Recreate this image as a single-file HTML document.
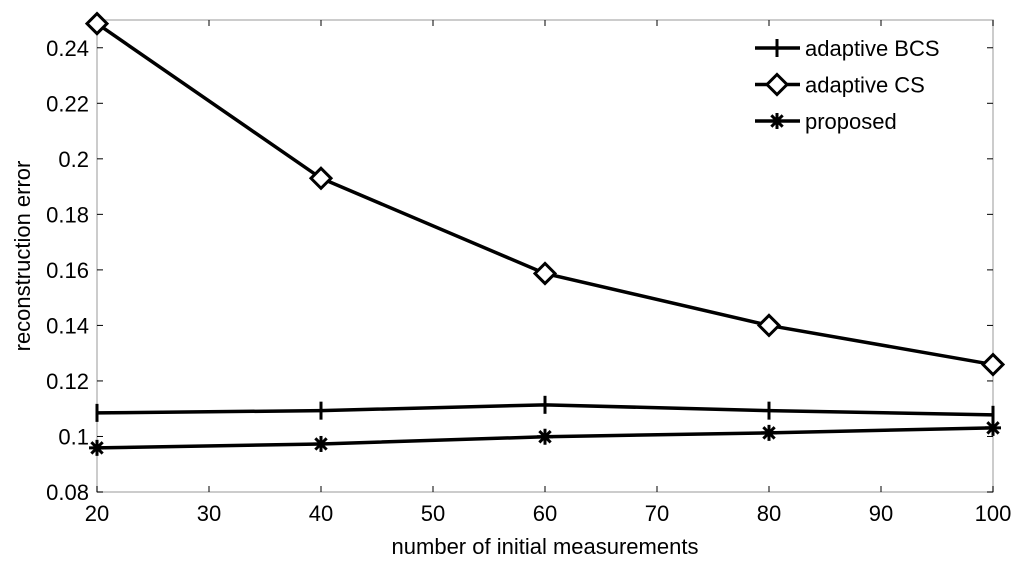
<!DOCTYPE html>
<html><head><meta charset="utf-8"><style>
html,body{margin:0;padding:0;background:#fff;}
svg{display:block;font-family:"Liberation Sans",Arial,sans-serif;}
</style></head><body>
<svg id="chart" width="1024" height="563" viewBox="0 0 1024 563" xmlns="http://www.w3.org/2000/svg"></svg>
<script>
const xCategories = [20, 40, 60, 80, 100];
const adaptiveBCS = [0.1085, 0.1093, 0.1114, 0.1093, 0.1078];
const adaptiveCS = [0.2487, 0.193, 0.1587, 0.140, 0.1259];
const proposed = [0.0959, 0.0973, 0.0999, 0.1013, 0.1031];
const xTicks = [20, 30, 40, 50, 60, 70, 80, 90, 100];
const yTicks = [0.08, 0.1, 0.12, 0.14, 0.16, 0.18, 0.2, 0.22, 0.24];
const yTickLabels = ["0.08", "0.1", "0.12", "0.14", "0.16", "0.18", "0.2", "0.22", "0.24"];

const L = 97, R = 993, T = 20, B = 492;
const xMin = 20, xMax = 100, yMin = 0.08, yMax = 0.25;
const xs = v => L + (v - xMin) / (xMax - xMin) * (R - L);
const ys = v => B - (v - yMin) / (yMax - yMin) * (B - T);
const svg = document.getElementById('chart');
const NS = 'http://www.w3.org/2000/svg';
function mk(tag, attrs, parent) {
  const e = document.createElementNS(NS, tag);
  for (const k in attrs) e.setAttribute(k, attrs[k]);
  (parent || svg).appendChild(e);
  return e;
}
const frame = mk('rect', {x: L, y: T, width: R - L, height: B - T, fill: 'none', stroke: '#bbb', 'stroke-width': 1.5});



xTicks.forEach(t => {
  const x = xs(t);
  mk('line', {x1: x, y1: B, x2: x, y2: B - 6, stroke: '#000', 'stroke-width': 1});
  mk('line', {x1: x, y1: T, x2: x, y2: T + 6, stroke: '#000', 'stroke-width': 1});
  const tx = mk('text', {x: x, y: B + 29, 'text-anchor': 'middle', 'font-size': 22, fill: '#000'});
  tx.textContent = t;
  
  
});
yTicks.forEach((t, i) => {
  const y = ys(t);
  mk('line', {x1: L, y1: y, x2: L + 6, y2: y, stroke: '#000', 'stroke-width': 1});
  mk('line', {x1: R, y1: y, x2: R - 6, y2: y, stroke: '#000', 'stroke-width': 1});
  const tx = mk('text', {x: L - 8, y: y + 8, 'text-anchor': 'end', 'font-size': 22, fill: '#000'});
  tx.textContent = yTickLabels[i];
  
  
});
const xt = mk('text', {x: 545, y: 554, 'text-anchor': 'middle', 'font-size': 22, fill: '#000'});
xt.textContent = 'number of initial measurements';


const yt = mk('text', {x: 0, y: 0, 'text-anchor': 'middle', 'font-size': 22, fill: '#000', transform: 'translate(30,256) rotate(-90)'});
yt.textContent = 'reconstruction error';



function marker(kind, x, y, g) {
  if (kind === 'plus') {
    mk('line', {x1: x, y1: y - 9, x2: x, y2: y + 9, stroke: '#000', 'stroke-width': 3}, g);
  } else if (kind === 'diamond') {
    mk('polygon', {points: `${x},${y-10} ${x+10},${y} ${x},${y+10} ${x-10},${y}`, fill: '#fff', stroke: '#000', 'stroke-width': 3}, g);
  } else {
    for (let a = 0; a < 4; a++) {
      const ang = a * Math.PI / 4, dx = 8 * Math.cos(ang), dy = 8 * Math.sin(ang);
      mk('line', {x1: x - dx, y1: y - dy, x2: x + dx, y2: y + dy, stroke: '#000', 'stroke-width': 3}, g);
    }
  }
}
const series = [
  {name: 'series-adaptive-bcs', data: adaptiveBCS, kind: 'plus'},
  {name: 'series-adaptive-cs', data: adaptiveCS, kind: 'diamond'},
  {name: 'series-proposed', data: proposed, kind: 'star'}
];
series.forEach(s => {
  const g = mk('g', {});
  
  
  mk('polyline', {points: s.data.map((v, i) => xs(xCategories[i]) + ',' + ys(v)).join(' '), fill: 'none', stroke: '#000', 'stroke-width': 3.5}, g);
  s.data.forEach((v, i) => marker(s.kind, xs(xCategories[i]), ys(v), g));
});
const legendLabels = ['adaptive BCS', 'adaptive CS', 'proposed'];
legendLabels.forEach((lab, i) => {
  const y = 48 + i * 36.5;
  const g = mk('g', {});
  
  
  mk('line', {x1: 755, y1: y, x2: 800, y2: y, stroke: '#000', 'stroke-width': 3.5}, g);
  marker(series[i].kind, 777, y, g);
  const t = mk('text', {x: 805, y: y + 8, 'font-size': 22, fill: '#000'}, g);
  t.textContent = lab;
});
</script>
</body></html>
